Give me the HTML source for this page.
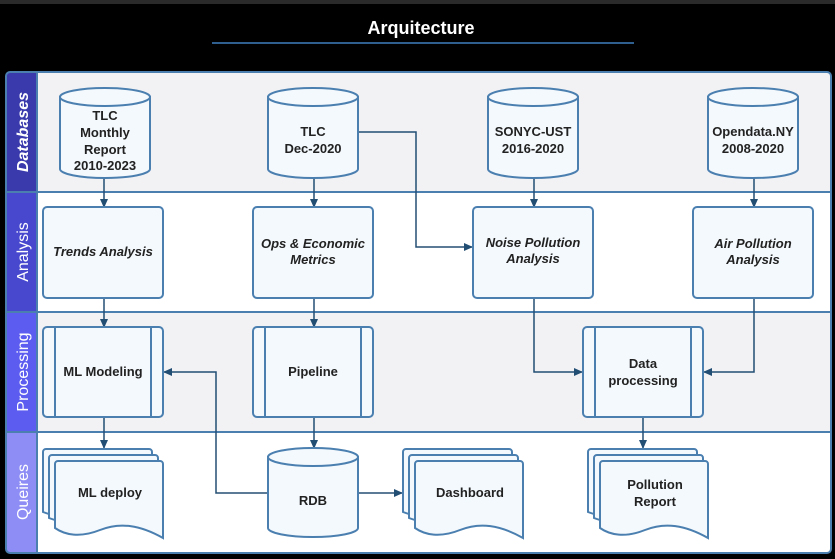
<!DOCTYPE html>
<html><head><meta charset="utf-8"><style>
html,body{margin:0;padding:0;background:#000;}
svg{display:block;font-family:"Liberation Sans",sans-serif;}
</style></head><body>
<svg width="835" height="559" viewBox="0 0 835 559">
<defs>
<marker id="a" markerWidth="10" markerHeight="10" refX="8" refY="5" orient="auto" markerUnits="userSpaceOnUse"><path d="M0,1 L9,5 L0,9 Z" fill="#234e74"/></marker>
</defs>
<rect width="835" height="559" fill="#000"/>
<rect width="835" height="4" fill="#2a2a2a"/>
<text x="421" y="34" text-anchor="middle" font-size="18" font-weight="bold" fill="#fff">Arquitecture</text>
<line x1="212" y1="43" x2="634" y2="43" stroke="#2f5f8f" stroke-width="2"/>
<!-- lanes -->
<rect x="6" y="72" width="825" height="481" rx="4" fill="#fff"/>
<rect x="37" y="73" width="793" height="119" fill="#f2f2f4"/>
<rect x="37" y="312" width="793" height="120" fill="#f2f2f4"/>
<rect x="7" y="73" width="30" height="119" fill="#3a3aad"/>
<rect x="7" y="192" width="30" height="120" fill="#4848cf"/>
<rect x="7" y="312" width="30" height="120" fill="#5c5cf0"/>
<rect x="7" y="432" width="30" height="120" fill="#8d8df5"/>
<g stroke="#4a7fb0" stroke-width="2" fill="none">
<rect x="6" y="72" width="825" height="481" rx="4"/>
<line x1="37" y1="72" x2="37" y2="553"/>
<line x1="6" y1="192" x2="831" y2="192"/>
<line x1="6" y1="312" x2="831" y2="312"/>
<line x1="6" y1="432" x2="831" y2="432"/>
</g>
<g fill="#fff" font-size="16" text-anchor="middle">
<text transform="translate(28,132) rotate(-90)" font-style="italic" font-weight="bold">Databases</text>
<text transform="translate(28,252) rotate(-90)">Analysis</text>
<text transform="translate(28,372) rotate(-90)">Processing</text>
<text transform="translate(28,492) rotate(-90)">Queires</text>
</g>
<!-- connectors -->
<g stroke="#234e74" stroke-width="1.5" fill="none" marker-end="url(#a)">
<path d="M104,178 V207"/>
<path d="M314,178 V207"/>
<path d="M358,132 H416 V247 H472"/>
<path d="M534,178 V207"/>
<path d="M754,178 V207"/>
<path d="M104,298 V327"/>
<path d="M314,298 V327"/>
<path d="M534,298 V372 H582"/>
<path d="M754,298 V372 H704"/>
<path d="M104,417 V448"/>
<path d="M314,417 V448"/>
<path d="M643,417 V448"/>
<path d="M268,493 H216 V372 H164"/>
<path d="M358,493 H402"/>
</g>
<g stroke="#4a7fb0" stroke-width="2" fill="#f4f9fd">
<!-- cylinders -->
<path d="M60,97 V169 A45,9 0 0 0 150,169 V97 Z"/><ellipse cx="105" cy="97" rx="45" ry="9"/>
<path d="M268,97 V169 A45,9 0 0 0 358,169 V97 Z"/><ellipse cx="313" cy="97" rx="45" ry="9"/>
<path d="M488,97 V169 A45,9 0 0 0 578,169 V97 Z"/><ellipse cx="533" cy="97" rx="45" ry="9"/>
<path d="M708,97 V169 A45,9 0 0 0 798,169 V97 Z"/><ellipse cx="753" cy="97" rx="45" ry="9"/>
<path d="M268,457 V528 A45,9 0 0 0 358,528 V457 Z"/><ellipse cx="313" cy="457" rx="45" ry="9"/>
<!-- analysis -->
<rect x="43" y="207" width="120" height="91" rx="4"/>
<rect x="253" y="207" width="120" height="91" rx="4"/>
<rect x="473" y="207" width="120" height="91" rx="4"/>
<rect x="693" y="207" width="120" height="91" rx="4"/>
<!-- processing -->
<rect x="43" y="327" width="120" height="90" rx="4"/>
<rect x="253" y="327" width="120" height="90" rx="4"/>
<rect x="583" y="327" width="120" height="90" rx="4"/>
<line x1="55" y1="327" x2="55" y2="417"/><line x1="151" y1="327" x2="151" y2="417"/>
<line x1="265" y1="327" x2="265" y2="417"/><line x1="361" y1="327" x2="361" y2="417"/>
<line x1="595" y1="327" x2="595" y2="417"/><line x1="691" y1="327" x2="691" y2="417"/>
<!-- docs -->
<path d="M43,452 a3,3 0 0 1 3,-3 H149 a3,3 0 0 1 3,3 V513 C125,505 105,530 70,520 C55,516 48,514 43,512 Z"/>
<path d="M49,458 a3,3 0 0 1 3,-3 H155 a3,3 0 0 1 3,3 V519 C131,511 111,536 76,526 C61,522 54,520 49,518 Z"/>
<path d="M55,464 a3,3 0 0 1 3,-3 H160 a3,3 0 0 1 3,3 V538 C140,525 120,522 100,530 C80,538 65,535 55,528 Z"/>
<path d="M403,452 a3,3 0 0 1 3,-3 H509 a3,3 0 0 1 3,3 V513 C485,505 465,530 430,520 C415,516 408,514 403,512 Z"/>
<path d="M409,458 a3,3 0 0 1 3,-3 H515 a3,3 0 0 1 3,3 V519 C491,511 471,536 436,526 C421,522 414,520 409,518 Z"/>
<path d="M415,464 a3,3 0 0 1 3,-3 H520 a3,3 0 0 1 3,3 V538 C500,525 480,522 460,530 C440,538 425,535 415,528 Z"/>
<path d="M588,452 a3,3 0 0 1 3,-3 H694 a3,3 0 0 1 3,3 V513 C670,505 650,530 615,520 C600,516 593,514 588,512 Z"/>
<path d="M594,458 a3,3 0 0 1 3,-3 H700 a3,3 0 0 1 3,3 V519 C676,511 656,536 621,526 C606,522 599,520 594,518 Z"/>
<path d="M600,464 a3,3 0 0 1 3,-3 H705 a3,3 0 0 1 3,3 V538 C685,525 665,522 645,530 C625,538 610,535 600,528 Z"/>
</g>
<g fill="#222" font-size="13" font-weight="bold" text-anchor="middle">
<text x="105" y="120">TLC</text><text x="105" y="137">Monthly</text><text x="105" y="154">Report</text><text x="105" y="170">2010-2023</text>
<text x="313" y="136">TLC</text><text x="313" y="153">Dec-2020</text>
<text x="533" y="136">SONYC-UST</text><text x="533" y="153">2016-2020</text>
<text x="753" y="136">Opendata.NY</text><text x="753" y="153">2008-2020</text>
<g font-style="italic">
<text x="103" y="256">Trends Analysis</text>
<text x="313" y="248">Ops &amp; Economic</text><text x="313" y="264">Metrics</text>
<text x="533" y="247">Noise Pollution</text><text x="533" y="263">Analysis</text>
<text x="753" y="248">Air Pollution</text><text x="753" y="264">Analysis</text>
</g>
<text x="103" y="376">ML Modeling</text>
<text x="313" y="376">Pipeline</text>
<text x="643" y="368">Data</text><text x="643" y="385">processing</text>
<text x="110" y="497">ML deploy</text>
<text x="313" y="505">RDB</text>
<text x="470" y="497">Dashboard</text>
<text x="655" y="489">Pollution</text><text x="655" y="506">Report</text>
</g>
</svg>
</body></html>
